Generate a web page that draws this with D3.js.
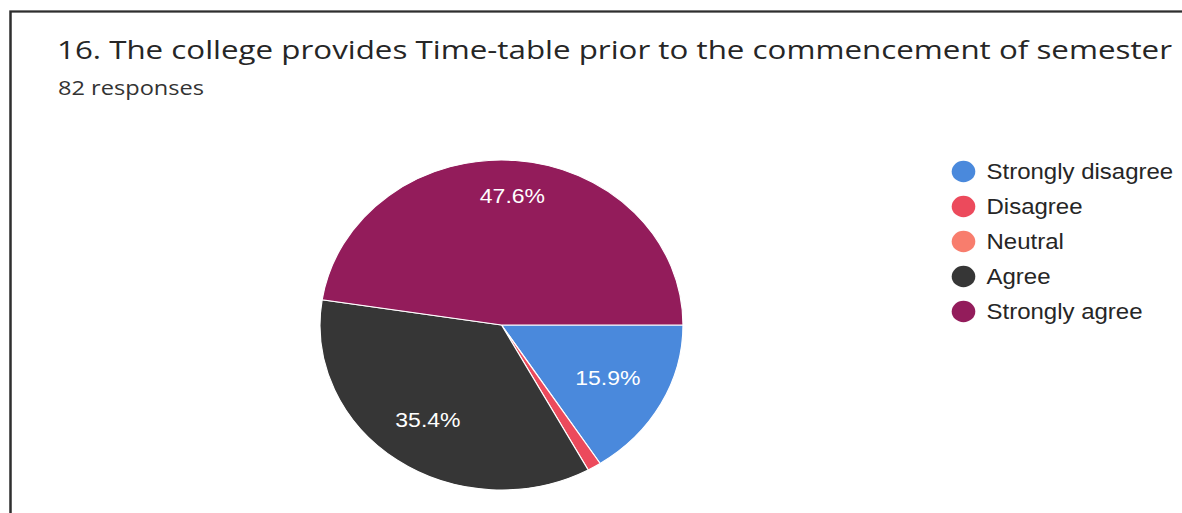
<!DOCTYPE html>
<html>
<head>
<meta charset="utf-8">
<script src="https://cdn.jsdelivr.net/npm/d3@7"></script>
<style>
  html, body { margin: 0; padding: 0; background: #fff; }
  svg { display: block; }
</style>
</head>
<body>
<svg id="chart" width="1182" height="513"></svg>
<script>
// ---- data ----
const categories = ["Strongly disagree", "Disagree", "Neutral", "Agree", "Strongly agree"];
const counts = [13, 1, 0, 29, 39];
const percentLabels = ["15.9%", "1.2%", "0%", "35.4%", "47.6%"];
const colors = ["#4a89dc", "#ec4a5c", "#f87d6d", "#363636", "#931c5b"];
const titleText = "16. The college provides Time-table prior to the commencement of semester";
const subtitleText = "82 responses";

// ---- layout ----
const W = 1182, H = 513;
const sy = 0.909; // vertical squash of the scanned picture
const svg = d3.select("#chart");
const root = svg.append("g").attr("transform", `scale(1, ${sy})`);

// frame
root.append("rect")
  .attr("x", 10.5).attr("y", 11.5 / sy)
  .attr("width", 1300).attr("height", 700)
  .attr("fill", "none").attr("stroke", "#2e2e2e").attr("stroke-width", 2.5);

// title + subtitle
root.append("text")
  .attr("x", 57).attr("y", 65)
  .attr("font-family", "'Open Sans', sans-serif")
  .attr("font-size", 28).attr("fill", "#262626")
  .attr("textLength", 1115).attr("lengthAdjust", "spacingAndGlyphs")
  .text(titleText);
root.append("text")
  .attr("x", 58).attr("y", 104.5)
  .attr("font-family", "'Open Sans', sans-serif")
  .attr("font-size", 21).attr("fill", "#333")
  .attr("textLength", 146).attr("lengthAdjust", "spacingAndGlyphs")
  .text(subtitleText);

// pie
const cx = 501.5, cy = 325 / sy, r = 181.5;
const pie = d3.pie().sort(null).value(d => d.v)
  .startAngle(Math.PI / 2).endAngle(Math.PI / 2 + 2 * Math.PI);
const data = categories.map((c, i) => ({ c, v: counts[i], col: colors[i], lab: percentLabels[i] }));
const arcs = pie(data);
const arc = d3.arc().innerRadius(0).outerRadius(r);

const gPie = root.append("g").attr("transform", `translate(${cx},${cy})`);
gPie.selectAll("path").data(arcs.filter(a => a.data.v > 0)).join("path")
  .attr("d", arc)
  .attr("fill", d => d.data.col)
  .attr("stroke", "#fff").attr("stroke-width", 1.2);

// labels: place each so that the outer edge of its text box sits at a fixed radius
const outerEdge = 154, halfH = 9;
const labels = gPie.selectAll("text").data(arcs.filter(a => (a.endAngle - a.startAngle) > 0.5)).join("text")
  .attr("text-anchor", "middle").attr("dominant-baseline", "central")
  .attr("font-family", "'Liberation Sans', Arial, sans-serif")
  .attr("font-size", 23).attr("fill", "#fff")
  .text(d => d.data.lab);
labels.each(function(d) {
  const hw = this.getComputedTextLength() / 2;
  const a = (d.startAngle + d.endAngle) / 2;
  const s = Math.sin(a), c = -Math.cos(a);
  const rad = outerEdge - (hw * Math.abs(s) + halfH * Math.abs(c));
  d3.select(this).attr("transform", `translate(${rad * s},${rad * c})`);
});

// legend
const legX = 963.5, legY0 = 171.5 / sy, legDy = 35 / sy;
const gLeg = root.append("g");
const rows = gLeg.selectAll("g").data(data).join("g")
  .attr("transform", (d, i) => `translate(${legX},${legY0 + i * legDy})`);
rows.append("circle").attr("r", 11.8).attr("fill", d => d.col);
rows.append("text")
  .attr("x", 23).attr("dominant-baseline", "central")
  .attr("font-family", "'Liberation Sans', Arial, sans-serif")
  .attr("font-size", 24).attr("fill", "#262626")
  .text(d => d.c);
</script>
</body>
</html>
